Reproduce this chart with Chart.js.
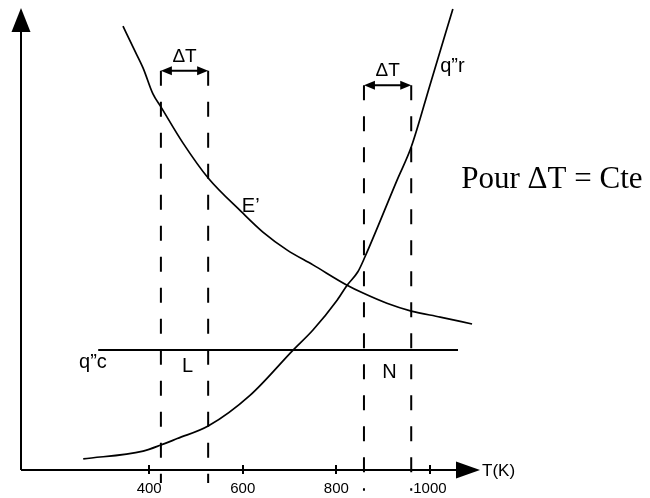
<!DOCTYPE html>
<html>
<head>
<meta charset="utf-8">
<script src="https://cdn.jsdelivr.net/npm/chart.js@4.4.1/dist/chart.umd.min.js"></script>
<style>
  html, body { margin: 0; padding: 0; background: #fff; }
</style>
</head>
<body>
<canvas id="grafico" width="650" height="498"></canvas>
<script>
// Graduations de l'axe des températures
const tickValues = [400, 600, 800, 1000];

// Courbe E' (décroissante)
const tempE = [344, 366, 387, 408, 425, 472, 526, 598, 643, 695, 750, 823, 857, 908, 960, 1022, 1090];
const valE = [96.1, 91.4, 87.0, 81.4, 78.6, 70.8, 63.2, 55.8, 51.5, 47.6, 44.4, 40.0, 38.3, 36.1, 34.4, 33.1, 31.6];

// Courbe q"r (croissante)
const tempQr = [259, 387, 425, 460, 526, 616, 708, 750, 802, 823, 846, 861, 930, 960, 1000, 1049];
const valQr = [2.4, 4.1, 5.4, 6.8, 9.5, 16.2, 26.0, 30.3, 36.8, 40.0, 42.9, 46.1, 62.8, 69.9, 83.3, 99.8];

// Droite q"c (constante)
const tempQc = [291, 1060];
const valQc = [26, 26];

// Intervalles ΔT (bornes en K)
const deltaGauche = [425, 526];
const deltaDroite = [859, 960];

const ptsE = tempE.map((t, i) => ({ x: t, y: valE[i] }));
const ptsQr = tempQr.map((t, i) => ({ x: t, y: valQr[i] }));
const ptsQc = tempQc.map((t, i) => ({ x: t, y: valQc[i] }));

const POLICE = "'Liberation Sans', Arial, sans-serif";

// ligne verticale en pointillés, du haut du crochet jusque sous l'axe
function pointille(t, haut, bas) {
    return {
        data: [{ x: t, y: haut }, { x: t, y: bas }],
        borderColor: '#000',
        borderWidth: 2,
        borderDash: [15, 16],
        pointRadius: 0,
        tension: 0,
        clip: false
    };
}

function fleche(ctx, x1, y1, x2, y2, long, demi) {
    const a = Math.atan2(y2 - y1, x2 - x1);
    ctx.beginPath();
    ctx.moveTo(x2, y2);
    ctx.lineTo(x2 - long * Math.cos(a) + demi * Math.sin(a), y2 - long * Math.sin(a) - demi * Math.cos(a));
    ctx.lineTo(x2 - long * Math.cos(a) - demi * Math.sin(a), y2 - long * Math.sin(a) + demi * Math.cos(a));
    ctx.closePath();
    ctx.fill();
}

const annotations = {
    id: 'annotations',
    afterDraw(chart) {
        const { ctx, chartArea, scales } = chart;
        const sx = scales.x, sy = scales.y;
        const X = v => sx.getPixelForValue(v);
        const Y = v => sy.getPixelForValue(v);
        const bas = chartArea.bottom;

        ctx.save();
        ctx.strokeStyle = '#000';
        ctx.fillStyle = '#000';
        ctx.lineWidth = 2;

        // axe vertical + flèche
        ctx.beginPath();
        ctx.moveTo(chartArea.left, bas);
        ctx.lineTo(chartArea.left, chartArea.top + 20);
        ctx.stroke();
        fleche(ctx, chartArea.left, bas, chartArea.left, chartArea.top, 24, 9.5);

        // flèche de l'axe des T
        ctx.beginPath();
        ctx.moveTo(chartArea.left, bas);
        ctx.lineTo(chartArea.right - 20, bas);
        ctx.stroke();
        fleche(ctx, chartArea.left, bas, chartArea.right, bas, 24, 8.5);

        // petites graduations qui traversent l'axe
        sx.ticks.forEach(tk => {
            const px = Math.round(X(tk.value));
            ctx.beginPath();
            ctx.moveTo(px, bas - 5);
            ctx.lineTo(px, bas + 4);
            ctx.stroke();
        });

        // crochets ΔT avec double flèche
        [[deltaGauche, 86.4], [deltaDroite, 83.3]].forEach(([d, v]) => {
            const x1 = X(d[0]), x2 = X(d[1]), y = Y(v);
            const xm = (x1 + x2) / 2;
            ctx.beginPath();
            ctx.moveTo(xm, y);
            ctx.lineTo(x1 + 6, y);
            ctx.moveTo(xm, y);
            ctx.lineTo(x2 - 6, y);
            ctx.stroke();
            fleche(ctx, xm, y, x1, y, 11, 4.5);
            fleche(ctx, xm, y, x2, y, 11, 4.5);
            ctx.font = '19px ' + POLICE;
            ctx.textAlign = 'center';
            ctx.textBaseline = 'alphabetic';
            ctx.fillText('ΔT', xm, y - 9);
        });

        // étiquettes des courbes
        ctx.textAlign = 'left';
        ctx.textBaseline = 'alphabetic';
        ctx.font = '20px ' + POLICE;
        ctx.fillText('q\u201Dr', X(1022), Y(86.1));
        ctx.fillText('E\u2019', X(598), Y(55.8));
        ctx.fillText('q\u201Dc', X(250), Y(22.1));
        ctx.fillText('L', X(470), Y(21.2));
        ctx.fillText('N', X(898), Y(19.9));

        ctx.font = '17px ' + POLICE;
        ctx.fillText('T(K)', chartArea.right + 2, bas + 6);

        ctx.font = "31px 'Liberation Serif', 'Times New Roman', serif";
        ctx.fillText('Pour ΔT = Cte', X(1067), Y(61));
        ctx.restore();
    }
};

new Chart(document.getElementById('grafico'), {
    type: 'line',
    data: {
        datasets: [
            { data: ptsE, borderColor: '#000', borderWidth: 1.7, pointRadius: 0, cubicInterpolationMode: 'monotone', clip: false },
            { data: ptsQr, borderColor: '#000', borderWidth: 1.7, pointRadius: 0, cubicInterpolationMode: 'monotone', clip: false },
            { data: ptsQc, borderColor: '#000', borderWidth: 2, pointRadius: 0, tension: 0 },
            pointille(deltaGauche[0], 86.4, -2.8),
            pointille(deltaGauche[1], 86.4, -2.8),
            pointille(deltaDroite[0], 83.3, -4.5),
            pointille(deltaDroite[1], 83.3, -4.5)
        ]
    },
    options: {
        responsive: false,
        animation: false,
        devicePixelRatio: 1,
        layout: { padding: { left: 21, right: 170, top: 8, bottom: 0 } },
        plugins: { legend: { display: false }, tooltip: { enabled: false } },
        scales: {
            x: {
                type: 'linear',
                min: 126,
                max: 1107,
                afterBuildTicks: scale => { scale.ticks = tickValues.map(v => ({ value: v })); },
                afterFit: scale => { scale.height = 28; },
                grid: { display: false, drawTicks: false },
                border: { display: false },
                ticks: {
                    color: '#000',
                    padding: 10,
                    font: { family: POLICE, size: 15 },
                    callback: v => String(v)
                }
            },
            y: { display: false, min: 0, max: 100 }
        }
    },
    plugins: [annotations]
});
</script>
</body>
</html>
